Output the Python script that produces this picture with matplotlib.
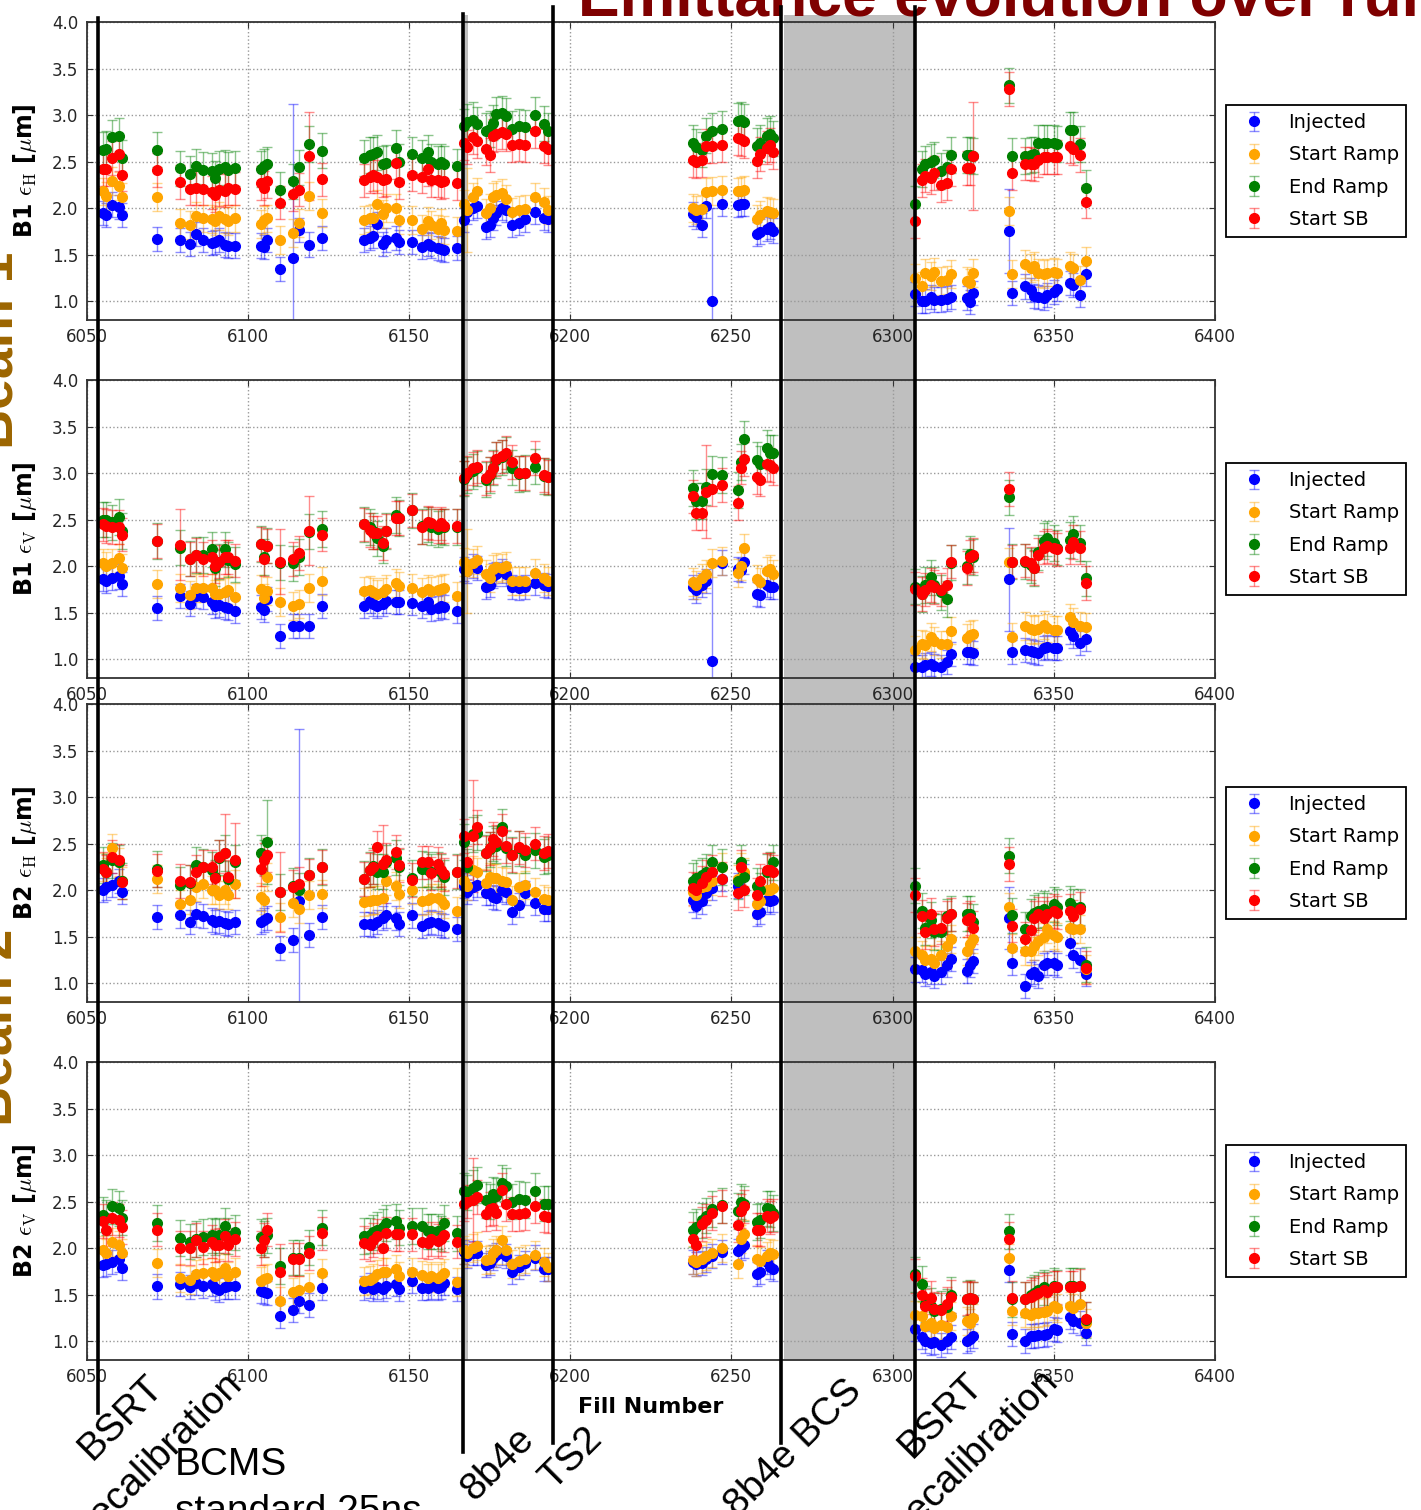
import numpy as np
import matplotlib
matplotlib.use('Agg')
import matplotlib.pyplot as plt
from matplotlib.patches import Rectangle
from matplotlib.lines import Line2D
from matplotlib.colors import to_rgba
from matplotlib import transforms

plt.rcParams['mathtext.fontset'] = 'cm'

# fill numbers (shared by all four panels)
fills = [6055, 6056, 6058, 6060, 6061,
         6072,
         6079, 6082, 6084, 6086, 6089, 6090, 6091, 6093, 6094, 6096,
         6104, 6105, 6106, 6110, 6114, 6116, 6119, 6123,
         6136, 6138, 6139, 6140, 6142, 6143, 6146, 6147,
         6151, 6154, 6156, 6157, 6159, 6160, 6161, 6165,
         6167, 6168, 6170, 6171, 6174, 6175, 6176, 6177, 6179, 6180, 6182, 6184, 6186, 6189, 6192, 6193,
         6238, 6239, 6241, 6242, 6244, 6247, 6252, 6253, 6254, 6258, 6259, 6261, 6262, 6263,
         6307, 6309, 6310, 6312, 6313, 6315, 6317, 6318, 6323, 6324, 6325, 6336, 6337, 6341, 6343, 6344,
         6345, 6347, 6348, 6350, 6351, 6355, 6356, 6358, 6360]

series = ['Injected', 'Start Ramp', 'End Ramp', 'Start SB']
colors = ['blue', 'orange', 'green', 'red']
typ_err = [0.13, 0.15, 0.19, 0.18]

# ---- B1 eps_H
inj_b1h = [1.95, 1.93, 2.04, 2.01, 1.93,
           1.67,
           1.66, 1.62, 1.72, 1.66, 1.63, 1.64, 1.66, 1.61, 1.60, 1.60,
           1.60, 1.58, 1.66, 1.35, 1.47, 1.77, 1.61, 1.68,
           1.66, 1.68, 1.70, 1.83, 1.62, 1.66, 1.68, 1.64,
           1.64, 1.58, 1.62, 1.60, 1.57, 1.56, 1.55, 1.57,
           1.87, 1.96, 2.00, 2.02, 1.80, 1.82, 1.90, 1.95, 2.00, 1.98, 1.82, 1.84, 1.88, 1.96, 1.90, 1.88,
           1.94, 1.91, 1.82, 2.02, 1.00, 2.05, 2.04, 2.05, 2.05, 1.72, 1.75, 1.78, 1.80, 1.76,
           1.08, 1.00, 1.00, 1.05, 1.02, 1.02, 1.03, 1.05, 1.04, 0.99, 1.09, 1.76, 1.09, 1.16, 1.12, 1.06,
           1.05, 1.04, 1.07, 1.10, 1.13, 1.20, 1.18, 1.07, 1.29]
sr_b1h = [2.18, 2.13, 2.29, 2.24, 2.12,
          2.12,
          1.84, 1.82, 1.92, 1.89, 1.88, 1.86, 1.92, 1.88, 1.86, 1.89,
          1.83, 1.87, 1.89, 1.66, 1.73, 1.84, 2.13, 1.95,
          1.87, 1.89, 1.90, 2.05, 1.94, 2.00, 2.00, 1.87,
          1.87, 1.78, 1.86, 1.82, 1.78, 1.84, 1.77, 1.76,
          2.05, 1.98, 2.12, 2.18, 1.95, 2.00, 2.12, 2.14, 2.16, 2.10, 1.96, 1.98, 1.99, 2.12, 2.07, 1.98,
          2.00, 1.98, 1.99, 2.17, 2.19, 2.20, 2.18, 2.19, 2.20, 1.88, 1.93, 1.97, 1.96, 1.95,
          1.25, 1.17, 1.30, 1.27, 1.32, 1.22, 1.23, 1.29, 1.22, 1.20, 1.30, 1.97, 1.29, 1.40, 1.36, 1.38,
          1.30, 1.29, 1.31, 1.32, 1.30, 1.38, 1.36, 1.23, 1.43]
er_b1h = [2.63, 2.64, 2.76, 2.78, 2.54,
          2.63,
          2.43, 2.37, 2.45, 2.41, 2.40, 2.32, 2.42, 2.44, 2.41, 2.43,
          2.42, 2.45, 2.47, 2.20, 2.29, 2.44, 2.69, 2.62,
          2.54, 2.57, 2.58, 2.60, 2.48, 2.49, 2.65, 2.50,
          2.58, 2.54, 2.60, 2.50, 2.48, 2.50, 2.48, 2.45,
          2.88, 2.93, 2.95, 2.90, 2.83, 2.85, 2.92, 3.01, 3.02, 2.99, 2.85, 2.88, 2.87, 3.00, 2.91, 2.83,
          2.70, 2.66, 2.63, 2.78, 2.83, 2.85, 2.94, 2.95, 2.93, 2.67, 2.70, 2.78, 2.80, 2.75,
          2.05, 2.42, 2.48, 2.50, 2.52, 2.40, 2.44, 2.57, 2.57, 2.57, 2.56, 3.32, 2.56, 2.56, 2.57, 2.58,
          2.70, 2.70, 2.70, 2.70, 2.69, 2.84, 2.84, 2.69, 2.22]
sb_b1h = [2.42, 2.42, 2.54, 2.58, 2.36,
          2.41,
          2.28, 2.21, 2.22, 2.21, 2.17, 2.14, 2.20, 2.19, 2.22, 2.21,
          2.27, 2.22, 2.29, 2.06, 2.15, 2.20, 2.56, 2.31,
          2.30, 2.34, 2.36, 2.34, 2.30, 2.31, 2.49, 2.28,
          2.36, 2.34, 2.42, 2.30, 2.30, 2.28, 2.29, 2.27,
          2.70, 2.66, 2.76, 2.72, 2.64, 2.57, 2.78, 2.80, 2.82, 2.80, 2.68, 2.69, 2.68, 2.83, 2.67, 2.64,
          2.52, 2.50, 2.52, 2.67, 2.67, 2.68, 2.75, 2.74, 2.72, 2.51, 2.58, 2.65, 2.68, 2.60,
          1.86, 2.30, 2.35, 2.33, 2.38, 2.25, 2.27, 2.42, 2.43, 2.43, 2.56, 3.28, 2.38, 2.48, 2.48, 2.47,
          2.52, 2.55, 2.55, 2.55, 2.55, 2.67, 2.64, 2.57, 2.07]

# ---- B1 eps_V
inj_b1v = [1.86, 1.84, 1.87, 1.89, 1.81,
           1.55,
           1.68, 1.60, 1.68, 1.67, 1.62, 1.57, 1.58, 1.56, 1.55, 1.52,
           1.56, 1.53, 1.65, 1.25, 1.36, 1.36, 1.36, 1.57,
           1.57, 1.63, 1.60, 1.57, 1.60, 1.63, 1.62, 1.62,
           1.61, 1.57, 1.62, 1.54, 1.55, 1.57, 1.56, 1.52,
           1.97, 1.95, 2.00, 1.98, 1.78, 1.80, 1.90, 1.92, 1.95, 1.92, 1.78, 1.77, 1.78, 1.82, 1.80, 1.79,
           1.78, 1.74, 1.80, 1.84, 0.98, 2.04, 1.97, 1.96, 2.05, 1.70, 1.69, 1.80, 1.78, 1.78,
           0.92, 0.92, 0.94, 0.95, 0.93, 0.92, 0.97, 1.06, 1.08, 1.08, 1.07, 1.86, 1.08, 1.10, 1.09, 1.08,
           1.07, 1.12, 1.13, 1.12, 1.12, 1.30, 1.25, 1.18, 1.22]
sr_b1v = [2.04, 2.00, 2.03, 2.09, 1.98,
          1.81,
          1.77, 1.69, 1.77, 1.77, 1.77, 1.70, 1.70, 1.72, 1.74, 1.67,
          1.76, 1.66, 1.73, 1.62, 1.57, 1.59, 1.77, 1.84,
          1.73, 1.74, 1.72, 1.70, 1.72, 1.76, 1.82, 1.79,
          1.77, 1.72, 1.76, 1.73, 1.75, 1.76, 1.77, 1.68,
          2.05, 1.95, 2.03, 2.07, 1.92, 1.87, 1.97, 1.99, 1.98, 2.00, 1.84, 1.84, 1.84, 1.93, 1.87, 1.84,
          1.83, 1.80, 1.87, 1.92, 2.03, 2.06, 1.93, 2.00, 2.20, 1.86, 1.83, 1.95, 1.97, 1.92,
          1.10, 1.17, 1.15, 1.24, 1.20, 1.16, 1.16, 1.31, 1.23, 1.26, 1.27, 2.05, 1.24, 1.36, 1.33, 1.32,
          1.33, 1.37, 1.34, 1.32, 1.32, 1.45, 1.40, 1.36, 1.35]
er_b1v = [2.50, 2.50, 2.47, 2.53, 2.38,
          2.27,
          2.20, 2.08, 2.12, 2.12, 2.18, 1.98, 2.05, 2.18, 2.07, 2.02,
          2.24, 2.10, 2.22, 2.04, 2.03, 2.10, 2.37, 2.40,
          2.45, 2.42, 2.38, 2.30, 2.22, 2.38, 2.55, 2.52,
          2.60, 2.43, 2.45, 2.42, 2.40, 2.43, 2.42, 2.42,
          2.94, 2.98, 3.02, 3.05, 2.93, 2.98, 3.06, 3.14, 3.17, 3.20, 3.06, 2.99, 3.00, 3.07, 2.97, 2.96,
          2.84, 2.70, 2.70, 2.85, 2.99, 2.98, 2.82, 3.12, 3.37, 3.14, 3.10, 3.27, 3.22, 3.22,
          1.78, 1.70, 1.80, 1.88, 1.80, 1.72, 1.65, 2.04, 2.00, 2.13, 2.10, 2.74, 2.05, 2.05, 2.01, 1.98,
          2.15, 2.27, 2.30, 2.25, 2.20, 2.28, 2.35, 2.25, 1.87]
sb_b1v = [2.45, 2.43, 2.42, 2.42, 2.34,
          2.27,
          2.23, 2.08, 2.12, 2.08, 2.10, 2.00, 2.05, 2.10, 2.10, 2.06,
          2.24, 2.08, 2.22, 2.05, 2.08, 2.14, 2.38, 2.34,
          2.45, 2.39, 2.36, 2.36, 2.25, 2.38, 2.52, 2.52,
          2.60, 2.42, 2.47, 2.46, 2.43, 2.46, 2.43, 2.43,
          2.95, 3.00, 3.05, 3.07, 2.95, 2.99, 3.06, 3.15, 3.18, 3.22, 3.12, 3.00, 3.00, 3.16, 2.98, 2.96,
          2.75, 2.57, 2.57, 2.80, 2.83, 2.87, 2.68, 3.06, 3.15, 2.96, 2.93, 3.10, 3.09, 3.05,
          1.76, 1.70, 1.75, 1.80, 1.78, 1.75, 1.80, 2.05, 1.98, 2.10, 2.12, 2.83, 2.05, 2.06, 2.03, 1.98,
          2.12, 2.20, 2.22, 2.20, 2.18, 2.20, 2.26, 2.20, 1.82]

# ---- B2 eps_H
inj_b2h = [2.00, 2.03, 2.06, 2.10, 1.98,
           1.71,
           1.73, 1.66, 1.74, 1.72, 1.68, 1.66, 1.67, 1.65, 1.64, 1.66,
           1.66, 1.68, 1.70, 1.38, 1.47, 1.88, 1.52, 1.71,
           1.64, 1.64, 1.63, 1.66, 1.70, 1.73, 1.70, 1.64,
           1.73, 1.62, 1.65, 1.66, 1.65, 1.63, 1.62, 1.58,
           2.05, 1.98, 2.03, 2.06, 1.97, 1.97, 1.93, 1.92, 2.00, 1.98, 1.77, 1.84, 1.97, 1.86, 1.80, 1.80,
           1.90, 1.83, 1.88, 1.97, 2.02, 2.12, 2.05, 2.13, 2.15, 1.75, 1.77, 1.90, 1.88, 1.90,
           1.15, 1.14, 1.10, 1.12, 1.08, 1.12, 1.20, 1.26, 1.13, 1.20, 1.24, 1.70, 1.22, 0.97, 1.10, 1.12,
           1.08, 1.20, 1.22, 1.22, 1.20, 1.43, 1.30, 1.25, 1.10]
sr_b2h = [2.25, 2.20, 2.45, 2.30, 2.10,
          2.12,
          1.85, 1.90, 2.03, 2.07, 2.00, 2.00, 1.95, 2.00, 1.95, 2.07,
          1.93, 1.90, 2.14, 1.71, 1.86, 1.80, 1.95, 1.96,
          1.87, 1.88, 1.90, 1.90, 1.92, 2.10, 2.05, 1.96,
          2.00, 1.88, 1.90, 1.92, 1.92, 1.90, 1.85, 1.78,
          2.10, 2.05, 2.22, 2.20, 2.08, 2.14, 2.13, 2.13, 2.10, 2.09, 1.90, 2.03, 2.06, 1.98, 1.91, 1.89,
          1.98, 1.95, 2.03, 2.05, 2.10, 2.25, 2.12, 2.25, 2.20, 1.85, 1.88, 2.00, 2.00, 2.02,
          1.35, 1.30, 1.25, 1.26, 1.22, 1.30, 1.40, 1.48, 1.35, 1.42, 1.48, 1.82, 1.38, 1.35, 1.35, 1.40,
          1.45, 1.50, 1.58, 1.52, 1.50, 1.60, 1.58, 1.58, 1.15]
er_b2h = [2.27, 2.20, 2.32, 2.30, 2.10,
          2.23,
          2.06, 2.08, 2.27, 2.25, 2.22, 2.14, 2.35, 2.40, 2.12, 2.30,
          2.40, 2.35, 2.52, 1.98, 2.05, 2.00, 2.16, 2.25,
          2.12, 2.22, 2.26, 2.20, 2.20, 2.30, 2.35, 2.25,
          2.13, 2.23, 2.22, 2.20, 2.22, 2.20, 2.14, 2.20,
          2.52, 2.25, 2.60, 2.62, 2.40, 2.44, 2.50, 2.48, 2.68, 2.45, 2.38, 2.45, 2.38, 2.43, 2.36, 2.38,
          2.10, 2.13, 2.16, 2.20, 2.30, 2.25, 2.10, 2.30, 2.14, 2.05, 2.00, 2.20, 2.22, 2.30,
          2.05, 1.78, 1.60, 1.68, 1.55, 1.55, 1.72, 1.75, 1.75, 1.75, 1.66, 2.37, 1.73, 1.58, 1.72, 1.76,
          1.78, 1.80, 1.78, 1.85, 1.82, 1.86, 1.82, 1.82, 1.20]
sb_b2h = [2.23, 2.20, 2.36, 2.32, 2.09,
          2.21,
          2.10, 2.09, 2.20, 2.25, 2.25, 2.13, 2.36, 2.40, 2.14, 2.32,
          2.23, 2.33, 2.38, 1.98, 2.04, 2.07, 2.16, 2.25,
          2.12, 2.22, 2.25, 2.46, 2.28, 2.33, 2.41, 2.27,
          2.11, 2.30, 2.30, 2.18, 2.28, 2.22, 2.17, 2.20,
          2.58, 2.30, 2.58, 2.68, 2.40, 2.45, 2.55, 2.52, 2.64, 2.47, 2.38, 2.46, 2.43, 2.50, 2.40, 2.42,
          2.02, 2.00, 2.08, 2.14, 2.20, 2.12, 1.97, 2.25, 2.00, 1.95, 2.10, 2.22, 2.22, 2.20,
          1.95, 1.72, 1.55, 1.74, 1.58, 1.60, 1.70, 1.74, 1.68, 1.70, 1.60, 2.28, 1.62, 1.48, 1.57, 1.70,
          1.75, 1.70, 1.75, 1.78, 1.76, 1.78, 1.72, 1.80, 1.17]

# ---- B2 eps_V
inj_b2v = [1.82, 1.83, 1.85, 1.88, 1.79,
           1.59,
           1.62, 1.58, 1.63, 1.60, 1.62, 1.57, 1.55, 1.58, 1.59, 1.59,
           1.54, 1.53, 1.52, 1.27, 1.34, 1.43, 1.39, 1.57,
           1.57, 1.60, 1.56, 1.58, 1.56, 1.60, 1.62, 1.56,
           1.65, 1.57, 1.57, 1.59, 1.57, 1.58, 1.63, 1.56,
           1.96, 1.92, 1.95, 1.95, 1.82, 1.84, 1.90, 1.93, 1.95, 1.92, 1.75, 1.80, 1.84, 1.90, 1.78, 1.78,
           1.85, 1.83, 1.84, 1.88, 1.92, 1.96, 1.97, 2.00, 2.03, 1.72, 1.75, 1.85, 1.80, 1.78,
           1.13, 1.05, 1.00, 0.98, 0.99, 0.96, 1.00, 1.05, 1.00, 1.03, 1.06, 1.77, 1.08, 1.00, 1.06, 1.06,
           1.07, 1.07, 1.08, 1.13, 1.12, 1.26, 1.22, 1.20, 1.09]
sr_b2v = [1.98, 1.95, 2.07, 2.03, 1.95,
          1.84,
          1.68, 1.66, 1.72, 1.73, 1.74, 1.70, 1.73, 1.79, 1.70, 1.74,
          1.65, 1.67, 1.68, 1.43, 1.53, 1.55, 1.58, 1.73,
          1.65, 1.66, 1.68, 1.72, 1.74, 1.75, 1.78, 1.70,
          1.75, 1.71, 1.68, 1.70, 1.68, 1.70, 1.73, 1.64,
          1.98, 1.95, 2.00, 2.02, 1.87, 1.88, 1.95, 1.98, 2.09, 1.98, 1.83, 1.86, 1.88, 1.93, 1.85, 1.80,
          1.87, 1.85, 1.88, 1.92, 1.95, 2.00, 1.83, 2.10, 2.15, 1.88, 1.86, 1.92, 1.95, 1.94,
          1.28, 1.27, 1.17, 1.20, 1.14, 1.18, 1.15, 1.27, 1.22, 1.20, 1.25, 1.90, 1.33, 1.30, 1.28, 1.30,
          1.30, 1.32, 1.33, 1.38, 1.36, 1.38, 1.36, 1.40, 1.20]
er_b2v = [2.36, 2.33, 2.45, 2.43, 2.33,
          2.27,
          2.11, 2.07, 2.10, 2.12, 2.14, 2.12, 2.14, 2.24, 2.13, 2.17,
          2.12, 2.10, 2.14, 1.81, 1.90, 1.90, 2.01, 2.22,
          2.13, 2.14, 2.17, 2.20, 2.23, 2.27, 2.29, 2.22,
          2.24, 2.24, 2.18, 2.18, 2.18, 2.16, 2.27, 2.16,
          2.62, 2.60, 2.65, 2.68, 2.52, 2.50, 2.58, 2.56, 2.70, 2.67, 2.50, 2.53, 2.52, 2.62, 2.48, 2.48,
          2.20, 2.23, 2.30, 2.35, 2.42, 2.46, 2.40, 2.50, 2.48, 2.28, 2.30, 2.43, 2.42, 2.38,
          1.72, 1.62, 1.40, 1.38, 1.33, 1.35, 1.37, 1.50, 1.46, 1.47, 1.45, 2.18, 1.45, 1.45, 1.50, 1.52,
          1.55, 1.58, 1.55, 1.60, 1.58, 1.60, 1.60, 1.60, 1.23]
sb_b2v = [2.29, 2.20, 2.32, 2.30, 2.23,
          2.20,
          2.00, 2.00, 2.09, 2.01, 2.07, 2.03, 2.04, 2.13, 2.04, 2.10,
          2.00, 2.09, 2.20, 1.75, 1.88, 1.88, 1.95, 2.16,
          2.06, 2.04, 2.09, 2.13, 2.00, 2.16, 2.15, 2.15,
          2.15, 2.07, 2.06, 2.10, 2.08, 2.10, 2.14, 2.07,
          2.47, 2.50, 2.52, 2.55, 2.37, 2.42, 2.43, 2.38, 2.63, 2.47, 2.37, 2.37, 2.38, 2.45, 2.35, 2.34,
          2.10, 2.04, 2.26, 2.30, 2.38, 2.45, 2.25, 2.40, 2.45, 2.20, 2.20, 2.35, 2.33, 2.35,
          1.70, 1.50, 1.38, 1.47, 1.35, 1.34, 1.40, 1.48, 1.46, 1.47, 1.46, 2.10, 1.47, 1.46, 1.48, 1.50,
          1.52, 1.55, 1.53, 1.58, 1.58, 1.58, 1.58, 1.60, 1.24]

# error bars that stand out from the typical size: (series index, fill, error)
big_err_b1h = [(0, 6114, 1.65), (0, 6244, 1.0), (3, 6325, 0.58), (1, 6168, 0.45),
               (0, 6336, 0.45), (3, 6119, 0.47)]
big_err_b1v = [(0, 6244, 1.05), (1, 6168, 0.45), (3, 6242, 0.5), (0, 6336, 0.55),
               (3, 6079, 0.38), (3, 6110, 0.35), (3, 6119, 0.37)]
big_err_b2h = [(0, 6116, 1.85), (3, 6170, 0.6), (2, 6106, 0.45), (3, 6093, 0.42),
               (3, 6096, 0.4), (3, 6110, 0.43), (3, 6142, 0.42), (0, 6336, 0.33)]
big_err_b2v = [(3, 6170, 0.45), (3, 6110, 0.3)]

ylabels = [r'B1 $\epsilon_\mathrm{H}$ [$\mu$m]', r'B1 $\epsilon_\mathrm{V}$ [$\mu$m]',
           r'B2 $\epsilon_\mathrm{H}$ [$\mu$m]', r'B2 $\epsilon_\mathrm{V}$ [$\mu$m]']
panels = [([inj_b1h, sr_b1h, er_b1h, sb_b1h], big_err_b1h),
          ([inj_b1v, sr_b1v, er_b1v, sb_b1v], big_err_b1v),
          ([inj_b2h, sr_b2h, er_b2h, sb_b2h], big_err_b2h),
          ([inj_b2v, sr_b2v, er_b2v, sb_b2v], big_err_b2v)]

# fills where the run changed (vertical markers) and shaded periods
markers = [6053.6, 6166.7, 6194.6, 6265.3, 6307.1]
shaded = [(6166.9, 6168.3), (6266.2, 6306.5)]

W, H = 1421, 1510
fig = plt.figure(figsize=(W / 100, H / 100), dpi=100)

tops = [22, 380, 704, 1062]
x0, x1, ah = 86.5, 1215, 298
axes = []
for k, (vals, big) in enumerate(panels):
    ax = fig.add_axes([x0 / W, 1 - (tops[k] + ah) / H, (x1 - x0) / W, ah / H])
    ax.set_facecolor('none')
    for i in range(4):
        assert len(vals[i]) == len(fills)
        err = np.full(len(fills), typ_err[i])
        for s, f, e in big:
            if s == i:
                err[fills.index(f)] = e
        ax.errorbar(fills, vals[i], yerr=err, fmt='o', color=colors[i],
                    ecolor=to_rgba(colors[i], 0.45), ms=7, mec=colors[i],
                    elinewidth=1, capsize=3.5, capthick=1, label=series[i])
    ax.set_xlim(6050, 6400)
    ax.set_ylim(0.8, 4.0)
    ax.set_xticks(np.arange(6050, 6401, 50))
    ax.set_yticks(np.arange(1.0, 4.01, 0.5))
    ax.grid(True, linestyle=':', color='0.6', linewidth=1)
    ax.tick_params(direction='in', top=True, right=True, length=4, pad=6,
                   labelsize=12, labelcolor='0.15', color='0.2')
    for sp in ax.spines.values():
        sp.set_color('0.2')
        sp.set_linewidth(1.3)
    ax.set_ylabel(ylabels[k], fontsize=17, fontweight='bold', labelpad=9)
    leg = ax.legend(loc='center left', bbox_to_anchor=(1.01, 0.5), borderaxespad=0,
                    fontsize=14, labelspacing=0.68, numpoints=1, fancybox=False,
                    framealpha=1, edgecolor='black')
    leg.get_frame().set_linewidth(1.3)
    axes.append(ax)

axes[-1].set_xlabel('Fill Number', fontsize=16, fontweight='bold', labelpad=8)

# shaded periods and run-change markers span the whole figure height
tr = transforms.blended_transform_factory(axes[-1].transData, fig.transFigure)
for a, b in shaded:
    fig.add_artist(Rectangle((a, 1 - 1361 / H), b - a, (1361 - 15) / H, transform=tr,
                             facecolor='#bfbfbf', edgecolor='none', zorder=-1))
y_top = [18, 14, 7, 7, 7]
y_bot = [1413, 1452, 1443, 1443, 1453]
for xm, t, b in zip(markers, y_top, y_bot):
    fig.add_artist(Line2D([xm, xm], [1 - b / H, 1 - t / H], transform=tr,
                          color='black', linewidth=2.6, zorder=10))

# titles and notes
fig.text(578 / W, 1 - 15 / H, 'Emittance evolution over run', color='#7f0000',
         fontsize=45, fontweight='bold', family='Liberation Sans', ha='left', va='baseline')
for label, yc in [('Beam 1', 350), ('Beam 2', 1027)]:
    fig.text(13 / W, 1 - yc / H, label, rotation=90, rotation_mode='anchor',
             ha='center', va='baseline', color='#9c6500', fontsize=40,
             fontweight='bold', family='Liberation Sans')

notes = [('BSRT', 128, 1425), ('recalibration', 168, 1460), ('8b4e', 505, 1471),
         ('TS2', 578, 1466), ('8b4e BCS', 801, 1455), ('BSRT', 948, 1423),
         ('recalibration', 984, 1457)]
for txt, xp, yp in notes:
    fig.text(xp / W, 1 - yp / H, txt, rotation=45, rotation_mode='anchor',
             ha='center', va='baseline', fontsize=28, family='Liberation Sans')
fig.text(175 / W, 1 - 1475 / H, 'BCMS', fontsize=28, family='Liberation Sans',
         ha='left', va='baseline')
fig.text(175 / W, 1 - 1522 / H, 'standard 25ns', fontsize=28, family='Liberation Sans',
         ha='left', va='baseline')

fig.savefig('out.png', dpi=100)
